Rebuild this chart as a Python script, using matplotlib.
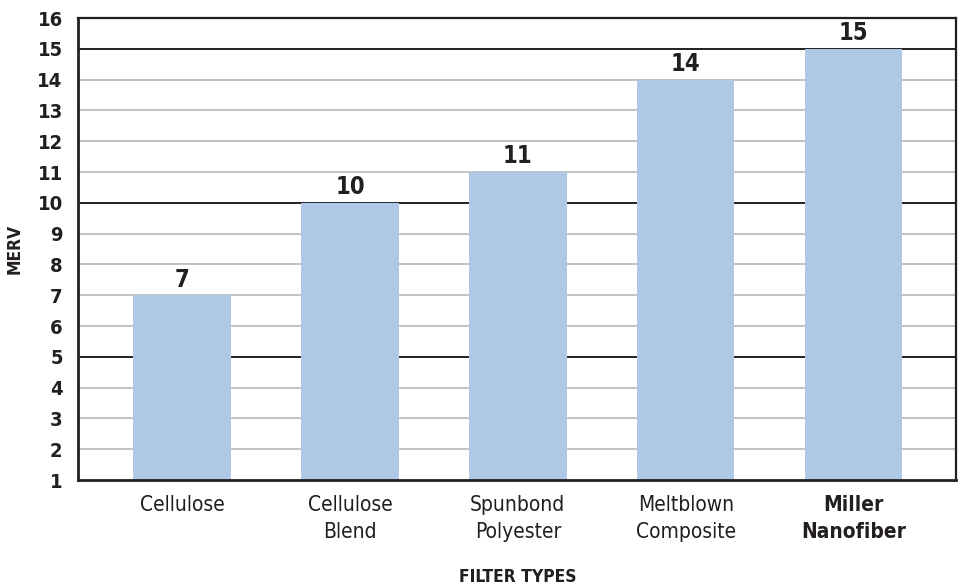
import numpy as np
import matplotlib
matplotlib.use("Agg")
from matplotlib import pyplot as plt
from matplotlib import font_manager

# data
categories = ["Cellulose", "Cellulose\nBlend", "Spunbond\nPolyester", "Meltblown\nComposite", "Miller\nNanofiber"]
merv = [7, 10, 11, 14, 15]
y_ticks = list(range(1, 17))

# look for a condensed face, else plain Liberation Sans
cond = [f for f in font_manager.fontManager.ttflist
        if f.stretch in ("condensed", "semi-condensed", "extra-condensed") or "Narrow" in f.name
        or "Condensed" in f.name]
if cond:
    font = cond[0].name
    plt.rcParams["font.stretch"] = cond[0].stretch
else:
    font = "Liberation Sans"
plt.rcParams["font.family"] = [font, "DejaVu Sans"]

fig = plt.figure(figsize=(9.64, 5.86), dpi=100)
ax = fig.add_axes([78 / 964, 1 - 480 / 586, (956 - 78) / 964, (480 - 18) / 586])

x = np.arange(len(categories))
ax.bar(x, [v - 1 for v in merv], bottom=1, width=0.58, color="#aec8e6", zorder=2)

for xi, v in zip(x, merv):
    ax.text(xi, v + 0.12, str(v), ha="center", va="bottom", fontsize=17, fontweight="bold", color="#231f20")

for yv in y_ticks[1:-1]:
    major = yv % 5 == 0
    ax.axhline(yv, color="#231f20" if major else "#bdbdbd", lw=1.4 if major else 1.3, zorder=1)

ax.set_xlim(-0.62, 4.61)
ax.set_ylim(1, 16)
ax.set_yticks(y_ticks)
ax.set_yticklabels([str(t) for t in y_ticks], fontsize=14.5, fontweight="bold", color="#231f20")
ax.set_xticks(x)
ax.set_xticklabels(categories, fontsize=15, color="#231f20", linespacing=1.45)
ax.get_xticklabels()[-1].set_fontweight("bold")
ax.tick_params(axis="both", length=0)
ax.tick_params(axis="y", pad=11)
ax.tick_params(axis="x", pad=11)
for s in ax.spines.values():
    s.set_linewidth(2)
    s.set_color("#231f20")
ax.spines["top"].set_linewidth(1.6)
ax.spines["right"].set_linewidth(1.6)

fig.text(15 / 964, 1 - 249 / 586, "MERV", rotation=90, ha="center", va="center", fontsize=12.5, fontweight="bold", color="#231f20")
fig.text(518 / 964, 1 - 577 / 586, "FILTER TYPES", ha="center", va="center", fontsize=12.5, fontweight="bold", color="#231f20")

fig.savefig("out.png", dpi=100)
